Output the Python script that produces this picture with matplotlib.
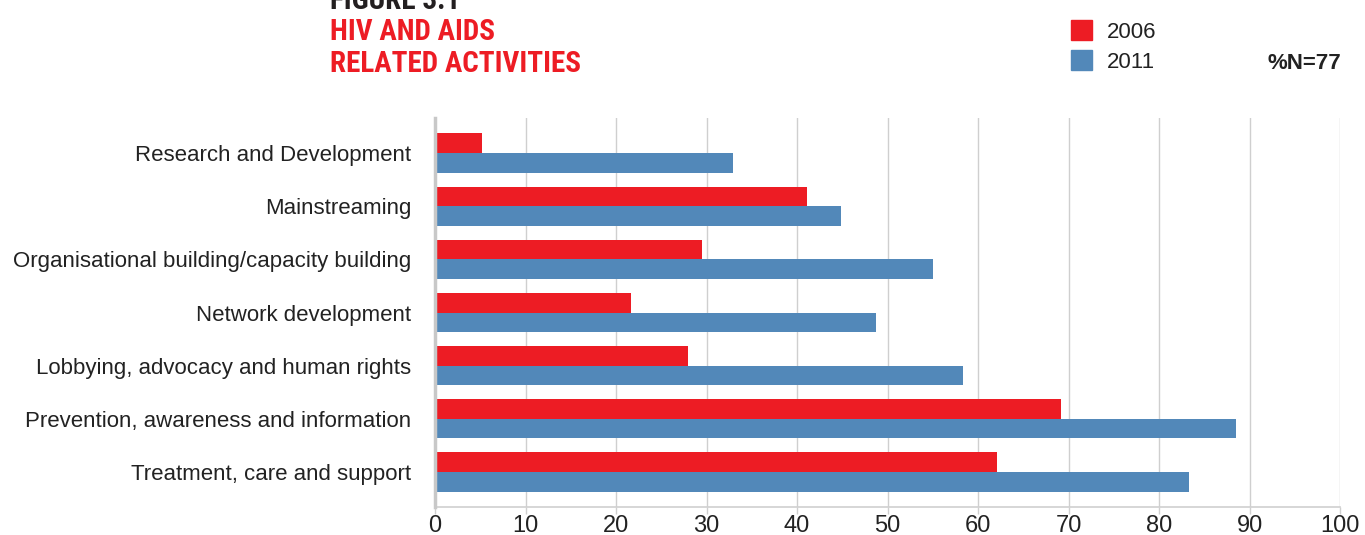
import matplotlib
matplotlib.use("Agg")
import matplotlib.pyplot as plt
from matplotlib.patches import Rectangle
import numpy as np

categories = [
    "Research and Development",
    "Mainstreaming",
    "Organisational building/capacity building",
    "Network development",
    "Lobbying, advocacy and human rights",
    "Prevention, awareness and information",
    "Treatment, care and support",
]
values_2006 = [5.2, 41.1, 29.5, 21.7, 28.0, 69.2, 62.1]
values_2011 = [32.9, 44.9, 55.0, 48.7, 58.3, 88.5, 83.3]
series_labels = ["2006", "2011"]
xticks = [0, 10, 20, 30, 40, 50, 60, 70, 80, 90, 100]

RED = "#ED1C24"
BLUE = "#5288B9"
GRID = "#cfcfcf"

plt.rcParams['font.family'] = ['Liberation Sans', 'DejaVu Sans']

fig = plt.figure(figsize=(13.65, 5.35), dpi=100)
ax = fig.add_axes([435/1365, 1-507/535, (1340-435)/1365, (507-118)/535])

y = np.arange(len(categories))
h = 0.37
ax.barh(y - h/2, values_2006, height=h, color=RED, zorder=3)
ax.barh(y + h/2, values_2011, height=h, color=BLUE, zorder=3)

ax.set_xlim(0, 100)
ax.set_ylim(len(categories) - 1 + 0.66, -0.66)
ax.set_xticks(xticks)
ax.set_xticklabels([str(t) for t in xticks], fontsize=17, color="#222222")
ax.set_yticks(y)
ax.set_yticklabels(categories, fontsize=16, color="#222222")
ax.tick_params(axis='y', length=0, pad=17)
ax.tick_params(axis='x', length=5, width=1, color=GRID, pad=1)
ax.grid(axis='x', color=GRID, linewidth=1, zorder=0)
for s in ['top', 'right']:
    ax.spines[s].set_visible(False)
ax.spines['left'].set_color("#c8c8c8")
ax.spines['left'].set_linewidth(2.5)
ax.spines['left'].set_zorder(4)
ax.spines['bottom'].set_color(GRID)
ax.spines['bottom'].set_linewidth(1.2)

# Titles
tfam = ['Roboto Condensed', 'DejaVu Sans Condensed', 'Liberation Sans Narrow',
        'Open Sans Condensed', 'DejaVu Sans']
fig.text(330/1365, 1-9/535, "FIGURE 3.1", fontsize=21, fontweight='bold',
         fontstretch='condensed', color="#231f20", family=tfam,
         va='baseline', ha='left')
fig.text(330/1365, 1-40/535, "HIV AND AIDS", fontsize=21, fontweight='bold',
         fontstretch='condensed', color=RED, family=tfam,
         va='baseline', ha='left')
fig.text(330/1365, 1-72/535, "RELATED ACTIVITIES", fontsize=21, fontweight='bold',
         fontstretch='condensed', color=RED, family=tfam,
         va='baseline', ha='left')

# Legend
for i, (lab, col) in enumerate(zip(series_labels, [RED, BLUE])):
    yt = 20 + i * 30
    fig.patches.append(Rectangle((1071/1365, 1-(yt+20)/535), 21/1365, 20/535,
                                 transform=fig.transFigure, color=col, figure=fig))
    fig.text(1107/1365, 1-(yt+18)/535, lab, fontsize=16, color="#222222",
             va='baseline', ha='left')

fig.text(1341/1365, 1-69/535, "%N=77", fontsize=16, fontweight='bold',
         color="#222222", va='baseline', ha='right')

fig.savefig("out.png", dpi=100)
